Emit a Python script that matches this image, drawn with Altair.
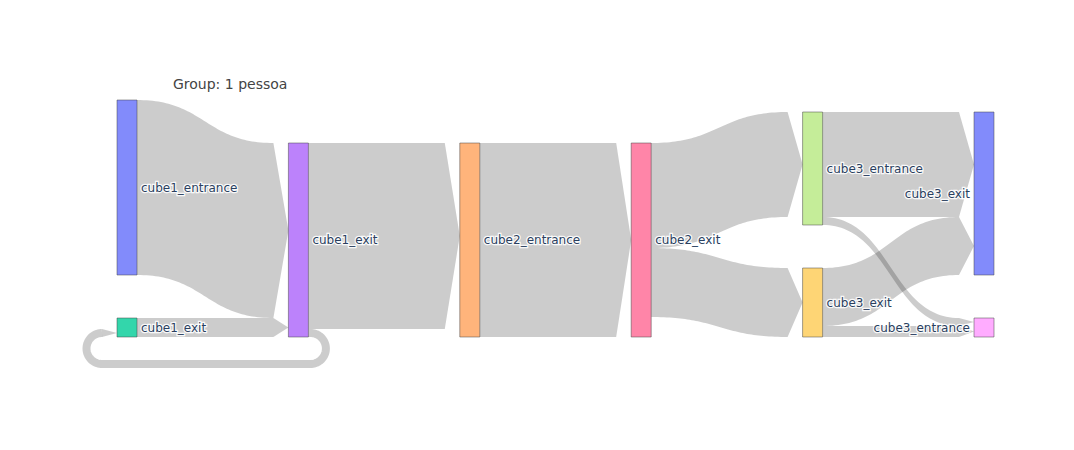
import math
import altair as alt
import pandas as pd

# ---------------- data ----------------
TITLE = "Group: 1 pessoa"
node_labels = ["cube1_entrance", "cube1_exit", "cube1_exit", "cube2_entrance", "cube2_exit",
               "cube3_entrance", "cube3_exit", "cube3_exit", "cube3_entrance"]
node_colors = ["#636efa", "#00cc96", "#ab63fa", "#FFA15A", "#FF6692",
               "#B6E880", "#FECB52", "#636efa", "#FF97FF"]
link_source = [0, 1, 2, 2, 3, 4, 4, 5, 5, 6, 6]
link_target = [2, 2, 3, 1, 4, 5, 6, 7, 8, 7, 8]
link_value = [175, 19, 186, 8, 194, 105, 69, 105, 8, 58, 11]

# ---------------- layout constants ----------------
W, H = 1074, 450
X_LEFT, X_RIGHT = 117, 994
Y_TOP, Y_BOTTOM = 100, 337
NODE_W = 20
NODE_PAD = 43
ARROW = 15
LABEL_GAP = 4
LOOP_DROP = 27
FONT = "DejaVu Sans"

n = len(node_labels)
nl = len(link_value)

# circular link detection (greedy in data order)
adj = {i: set() for i in range(n)}


def reaches(a, b):
    stack, seen = [a], set()
    while stack:
        u = stack.pop()
        if u == b:
            return True
        if u in seen:
            continue
        seen.add(u)
        stack.extend(adj[u])
    return False


circular = []
for s, t in zip(link_source, link_target):
    if s == t or reaches(t, s):
        circular.append(True)
    else:
        adj[s].add(t)
        circular.append(False)

# columns (longest path)
depth = [0] * n
for _ in range(n):
    for k in range(nl):
        if not circular[k]:
            s, t = link_source[k], link_target[k]
            depth[t] = max(depth[t], depth[s] + 1)
ncol = max(depth) + 1

vin = [0] * n
vout = [0] * n
for k in range(nl):
    vout[link_source[k]] += link_value[k]
    vin[link_target[k]] += link_value[k]
size = [max(a, b) for a, b in zip(vin, vout)]

cols = {c: [i for i in range(n) if depth[i] == c] for c in range(ncol)}
span = Y_BOTTOM - Y_TOP
ky = min((span - (len(v) - 1) * NODE_PAD) / sum(size[i] for i in v) for v in cols.values())

nx0 = [0.0] * n
ny0 = [0.0] * n
ny1 = [0.0] * n
step = (X_RIGHT - NODE_W - X_LEFT) / (ncol - 1)
for c, members in cols.items():
    total = sum(size[i] * ky for i in members) + (len(members) - 1) * NODE_PAD
    y = Y_BOTTOM - total
    for i in members:
        nx0[i] = X_LEFT + c * step
        ny0[i] = y
        ny1[i] = y + size[i] * ky
        y = ny1[i] + NODE_PAD
nx1 = [x + NODE_W for x in nx0]
nyc = [(a + b) / 2 for a, b in zip(ny0, ny1)]

# link attachment positions: regular links stacked from the node top,
# circular links stacked upward from the node bottom
src_y = [None] * nl
tgt_y = [None] * nl
for i in range(n):
    outs = [k for k in range(nl) if link_source[k] == i]
    ins = [k for k in range(nl) if link_target[k] == i]
    for group, store, other in ((outs, src_y, link_target), (ins, tgt_y, link_source)):
        reg = sorted([k for k in group if not circular[k]], key=lambda k: nyc[other[k]])
        circ = sorted([k for k in group if circular[k]], key=lambda k: -nyc[other[k]])
        y = ny0[i]
        for k in reg:
            store[k] = (y, y + link_value[k] * ky)
            y += link_value[k] * ky
        y = ny1[i]
        for k in circ:
            store[k] = (y - link_value[k] * ky, y)
            y -= link_value[k] * ky

area_rows = []
loop_rows = []
NS = 60
for k in range(nl):
    s, t = link_source[k], link_target[k]
    (a0, a1), (b0, b1) = src_y[k], tgt_y[k]
    if not circular[k]:
        xs, xt = nx1[s], nx0[t] - ARROW
        xm = (xs + xt) / 2
        for j in range(NS + 1):
            u = j / NS
            c0, c1, c2, c3 = (1 - u) ** 3, 3 * (1 - u) ** 2 * u, 3 * (1 - u) * u ** 2, u ** 3
            x = c0 * xs + (c1 + c2) * xm + c3 * xt
            top = (c0 + c1) * a0 + (c2 + c3) * b0
            bot = (c0 + c1) * a1 + (c2 + c3) * b1
            area_rows.append({"link": k, "x": x, "y": top, "y2": bot})
        mid = (b0 + b1) / 2
        area_rows.append({"link": k, "x": nx0[t], "y": mid, "y2": mid})
    else:
        ycs = (a0 + a1) / 2
        yct = (b0 + b1) / 2
        lo = min(depth[s], depth[t])
        hi = max(depth[s], depth[t])
        ybot = max(ny1[i] for i in range(n) if lo <= depth[i] <= hi) + LOOP_DROP
        rs = (ybot - ycs) / 2
        rt = (ybot - yct) / 2
        cxr = nx1[s] + 2
        cxl = nx0[t] - ARROW
        w = link_value[k] * ky
        idx = 0
        loop_rows.append({"i": idx, "x": nx1[s], "y": ycs, "w": w})
        for j in range(41):
            th = -math.pi / 2 + math.pi * j / 40
            idx += 1
            loop_rows.append({"i": idx, "x": cxr + rs * math.cos(th), "y": ycs + rs + rs * math.sin(th), "w": w})
        for j in range(41):
            th = math.pi / 2 + math.pi * j / 40
            idx += 1
            loop_rows.append({"i": idx, "x": cxl + rt * math.cos(th), "y": yct + rt + rt * math.sin(th), "w": w})
        area_rows.append({"link": k, "x": cxl, "y": b0, "y2": b1})
        area_rows.append({"link": k, "x": nx0[t], "y": yct, "y2": yct})

links_df = pd.DataFrame(area_rows)
loop_df = pd.DataFrame(loop_rows)
nodes_df = pd.DataFrame({
    "label": node_labels, "color": node_colors,
    "x0": nx0, "x1": nx1, "y0": ny0, "y1": ny1, "yc": nyc,
    "lx": [nx1[i] + LABEL_GAP if depth[i] < ncol - 1 else nx0[i] - LABEL_GAP for i in range(n)],
    "side": ["L" if depth[i] < ncol - 1 else "R" for i in range(n)],
})
title_df = pd.DataFrame({"t": [TITLE], "x": [173], "y": [88.5]})

xs_ = alt.Scale(domain=[0, W], nice=False, zero=False)
ys_ = alt.Scale(domain=[0, H], nice=False, zero=False, reverse=True)

links = alt.Chart(links_df).mark_area(color="#000000", opacity=0.2, orient="vertical").encode(
    x=alt.X("x:Q", scale=xs_, axis=None),
    y=alt.Y("y:Q", scale=ys_, axis=None, stack=False),
    y2="y2:Q",
    detail="link:N",
)

loop = alt.Chart(loop_df).mark_line(color="#000000", opacity=0.2, strokeCap="butt", strokeJoin="round").encode(
    x=alt.X("x:Q", scale=xs_, axis=None),
    y=alt.Y("y:Q", scale=ys_, axis=None),
    order="i:Q",
    size=alt.Size("w:Q", scale=None, legend=None),
)

nodes = alt.Chart(nodes_df).mark_rect(fillOpacity=0.8, stroke="#444444", strokeWidth=0.5).encode(
    x=alt.X("x0:Q", scale=xs_, axis=None), x2="x1:Q",
    y=alt.Y("y0:Q", scale=ys_, axis=None), y2="y1:Q",
    color=alt.Color("color:N", scale=None, legend=None),
)


def label_layer(side, align, halo):
    kw = dict(font=FONT, fontSize=12, align=align, baseline="middle")
    if halo:
        mk = alt.Chart(nodes_df).mark_text(color="#ffffff", stroke="#ffffff", strokeWidth=2.5,
                                           strokeOpacity=0.9, **kw)
    else:
        mk = alt.Chart(nodes_df).mark_text(color="#2a3f5f", **kw)
    return mk.transform_filter(alt.datum.side == side).encode(
        x=alt.X("lx:Q", scale=xs_, axis=None),
        y=alt.Y("yc:Q", scale=ys_, axis=None),
        text="label:N",
    )


title = alt.Chart(title_df).mark_text(font=FONT, fontSize=14, color="#444444", align="left",
                                      baseline="alphabetic").encode(
    x=alt.X("x:Q", scale=xs_, axis=None),
    y=alt.Y("y:Q", scale=ys_, axis=None),
    text="t:N",
)

chart = alt.layer(
    links, loop, nodes,
    label_layer("L", "left", True), label_layer("R", "right", True),
    label_layer("L", "left", False), label_layer("R", "right", False),
    title,
).properties(
    width=W, height=H, autosize=alt.AutoSizeParams(type="none"), padding=0,
).configure_view(strokeWidth=0)

chart.save("out.html", embed_options={"renderer": "svg", "actions": False})
